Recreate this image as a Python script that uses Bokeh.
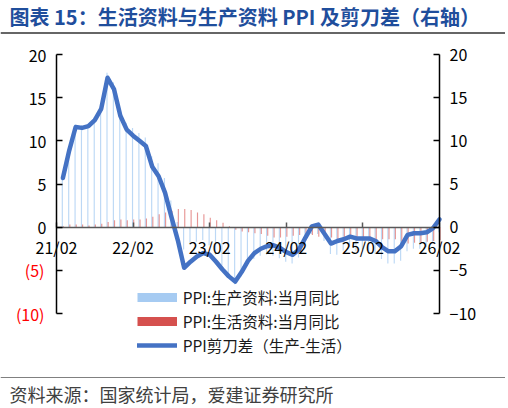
import numpy as np
from bokeh.plotting import figure
from bokeh.models import (LinearAxis, FixedTicker, Range1d, Span, Label, Legend,
                          LegendItem, ColumnDataSource)
from bokeh.transform import dodge
from bokeh.embed import file_html
from bokeh.resources import INLINE

# ---------------- data ----------------
months = ["2021-03", "2021-04", "2021-05", "2021-06", "2021-07", "2021-08", "2021-09", "2021-10",
          "2021-11", "2021-12", "2022-01", "2022-02", "2022-03", "2022-04", "2022-05", "2022-06",
          "2022-07", "2022-08", "2022-09", "2022-10", "2022-11", "2022-12", "2023-01", "2023-02",
          "2023-03", "2023-04", "2023-05", "2023-06", "2023-07", "2023-08", "2023-09", "2023-10",
          "2023-11", "2023-12", "2024-01", "2024-02", "2024-03", "2024-04", "2024-05", "2024-06",
          "2024-07", "2024-08", "2024-09", "2024-10", "2024-11", "2024-12", "2025-01", "2025-02",
          "2025-03", "2025-04", "2025-05", "2025-06", "2025-07", "2025-08", "2025-09", "2025-10",
          "2025-11", "2025-12", "2026-01", "2026-02"]

# PPI: 生产资料 当月同比 (%)
production = [5.8, 9.2, 11.9, 11.8, 11.9, 12.7, 14.1, 17.9, 16.8, 13.8, 12.1, 11.5,
              10.9, 10.4, 8.2, 7.4, 5.7, 3.1, 0.6, -2.6, -2.0, -1.7, -1.5, -2.1,
              -3.2, -4.4, -5.6, -6.6, -5.7, -4.5, -3.7, -3.3, -3.2, -3.3, -3.6, -4.0,
              -4.2, -3.5, -2.1, -0.8, -0.8, -1.6, -3.1, -3.2, -2.7, -2.3, -2.8, -2.6,
              -2.8, -3.1, -3.7, -4.2, -4.2, -3.9, -2.8, -2.5, -2.5, -2.3, -1.7, -0.6]

# PPI: 生活资料 当月同比 (%)
living = [0.1, 0.3, 0.3, 0.3, 0.2, 0.3, 0.4, 0.6, 0.8, 0.9, 0.8, 0.9,
          0.9, 1.0, 1.2, 1.5, 1.7, 1.9, 2.1, 2.1, 2.0, 1.7, 1.5, 1.1,
          0.8, 0.5, 0.1, -0.3, -0.5, -0.6, -0.7, -0.8, -1.0, -1.2, -1.2, -1.1,
          -1.0, -0.9, -0.9, -0.9, -1.1, -0.8, -1.2, -1.6, -1.3, -1.2, -1.5, -1.3,
          -1.5, -1.5, -1.4, -1.4, -1.4, -1.7, -1.9, -1.8, -1.8, -1.7, -1.6, -1.5]

# PPI 剪刀差 (生产-生活), right axis
scissors = [5.7, 8.9, 11.6, 11.5, 11.7, 12.4, 13.7, 17.3, 16.0, 12.9, 11.3, 10.6,
            10.0, 9.4, 7.0, 5.9, 4.0, 1.2, -1.5, -4.7, -4.0, -3.4, -3.0, -3.2,
            -4.0, -4.9, -5.7, -6.3, -5.2, -3.9, -3.0, -2.5, -2.2, -2.1, -2.4, -2.9,
            -3.2, -2.6, -1.2, 0.1, 0.3, -0.8, -1.9, -1.6, -1.4, -1.1, -1.3, -1.3,
            -1.3, -1.6, -2.3, -2.8, -2.8, -2.2, -0.9, -0.7, -0.7, -0.6, -0.1, 0.9]

tick_labels = ["21/02", "22/02", "23/02", "24/02", "25/02", "26/02"]
y_ticks = [-10, -5, 0, 5, 10, 15, 20]

title_text = "图表 15：生活资料与生产资料 PPI 及剪刀差（右轴）"
source_text = "资料来源：国家统计局，爱建证券研究所"
legend_labels = ["PPI:生产资料:当月同比", "PPI:生活资料:当月同比", "PPI剪刀差（生产-生活）"]

# ---------------- styling ----------------
FONT = "Noto Sans CJK SC"
BLUE_BAR = "#A6CBF2"
RED_BAR = "#D5504E"
LINE = "#4472C4"

W, H = 505, 406

# month index: 2021-02 -> 0
def month_pos(s):
    y, m = s.split("-")
    return (int(y) - 2021) * 12 + (int(m) - 2)

xpos = [month_pos(s) for s in months]
tick_pos = [month_pos("20" + t.split("/")[0] + "-" + t.split("/")[1]) for t in tick_labels]

PX_M = 383.0 / 60.0          # pixels per month
PX_V = 259.0 / 30.0          # pixels per percentage point
XS = 0 - 56 / PX_M
XE = 60 + (W - 439) / PX_M
YE = 20 + 54 / PX_V
YS = -10 - (H - 313) / PX_V

def dx(px):
    return XS + px / PX_M

def dy(py):
    return YE - py / PX_V

p = figure(width=W, height=H, output_backend="svg", toolbar_location=None,
           x_axis_location=None, y_axis_location=None,
           x_range=Range1d(XS, XE), y_range=Range1d(YS, YE),
           min_border=0, min_border_left=0, min_border_right=0,
           min_border_top=0, min_border_bottom=0,
           outline_line_color=None, background_fill_color="white",
           border_fill_color="white")
p.grid.visible = False

src = ColumnDataSource(dict(x=xpos, prod=production, liv=living, sc=scissors))

p.vbar(x=dodge("x", -0.09), top="prod", bottom=0, width=0.18, source=src,
       fill_color=BLUE_BAR, line_color=None, fill_alpha=0.75)
p.vbar(x=dodge("x", 0.09), top="liv", bottom=0, width=0.18, source=src,
       fill_color=RED_BAR, line_color=None, fill_alpha=0.6)
line_r = p.line("x", "sc", source=src, line_width=4.5, line_color=LINE,
                line_join="round", line_cap="round")

# legend swatches (no visible data)
nan_src = ColumnDataSource(dict(x=np.array([np.nan]), y=np.array([np.nan])))
sw_blue = p.line("x", "y", source=nan_src, line_width=9, line_color=BLUE_BAR, line_cap="butt")
sw_red = p.line("x", "y", source=nan_src, line_width=9, line_color=RED_BAR, line_cap="butt")

# ---------------- axes ----------------
def style_axis(ax, size="16px", color="#000000"):
    ax.major_label_text_font = FONT
    ax.major_label_text_font_size = size
    ax.major_label_text_color = color
    ax.minor_tick_line_color = None
    ax.major_tick_in = 6
    ax.major_tick_out = 0
    ax.axis_line_width = 1.5
    ax.major_tick_line_width = 1.5

yl = LinearAxis(fixed_location=0, bounds=(-10, 20),
                ticker=FixedTicker(ticks=y_ticks, minor_ticks=[]),
                major_label_overrides={-5: " ", -10: " "})
style_axis(yl)
yl.major_label_standoff = 10
p.add_layout(yl, "left")

yl_red = LinearAxis(fixed_location=0,
                    ticker=FixedTicker(ticks=[-10, -5], minor_ticks=[]),
                    major_label_overrides={-5: "(5)", -10: "(10)"})
style_axis(yl_red, color="#FF0000")
yl_red.axis_line_color = None
yl_red.major_tick_line_color = None
yl_red.major_tick_in = 0
yl_red.major_label_standoff = 12
p.add_layout(yl_red, "left")

yr = LinearAxis(fixed_location=60, bounds=(-10, 20),
                ticker=FixedTicker(ticks=y_ticks, minor_ticks=[]))
style_axis(yr)
yr.major_label_standoff = 10
p.add_layout(yr, "right")

xa = LinearAxis(fixed_location=0, bounds=(0, 60),
                ticker=FixedTicker(ticks=tick_pos, minor_ticks=[]),
                major_label_overrides={tp: tl for tp, tl in zip(tick_pos, tick_labels)})
style_axis(xa)
xa.axis_line_color = "#595959"
xa.major_tick_line_color = "#595959"
xa.major_tick_in = 5
xa.major_label_standoff = 8
p.add_layout(xa, "below")

# ---------------- legend ----------------
legend = Legend(items=[LegendItem(label=legend_labels[0], renderers=[sw_blue]),
                       LegendItem(label=legend_labels[1], renderers=[sw_red]),
                       LegendItem(label=legend_labels[2], renderers=[line_r])],
                location=(136.7, H - 355.5), orientation="vertical",
                padding=0, margin=0, spacing=2,
                glyph_width=40, glyph_height=20, label_height=20, label_standoff=6,
                border_line_color=None, background_fill_alpha=0,
                label_text_font=FONT, label_text_font_size="15.5px",
                label_text_color="#1A1A1A")
p.add_layout(legend)

# ---------------- title / rules / source ----------------
p.add_layout(Label(x=dx(9), y=dy(16), text=title_text, text_baseline="middle",
                   text_align="left", text_font=FONT, text_font_size="20px",
                   text_font_style="bold", text_color="#1F4E9C"))
p.add_layout(Span(location=dy(32.5), dimension="width", line_color="#333333",
                  line_width=1.5))
p.add_layout(Span(location=dy(377), dimension="width", line_color="#808080",
                  line_width=1.2))
p.add_layout(Label(x=dx(9), y=dy(393), text=source_text, text_baseline="middle",
                   text_align="left", text_font=FONT, text_font_size="18px",
                   text_color="#404040"))

open("out.html", "w").write(file_html(p, INLINE))
